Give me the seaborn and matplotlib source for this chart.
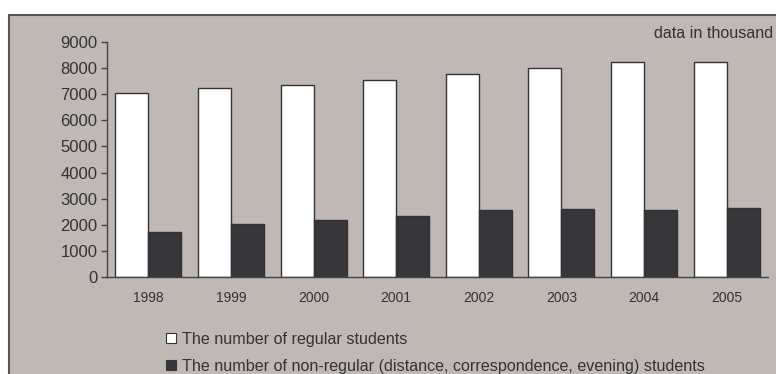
import matplotlib
matplotlib.use("Agg")
import matplotlib.pyplot as plt
import seaborn as sns
import pandas as pd
from matplotlib.patches import Rectangle, Patch

years = ['1998', '1999', '2000', '2001', '2002', '2003', '2004', '2005']
regular = [7030, 7230, 7340, 7530, 7770, 7990, 8250, 8250]
non_regular = [1735, 2030, 2170, 2320, 2550, 2600, 2550, 2640]
labels = ['The number of regular students',
          'The number of non-regular (distance, correspondence, evening) students']
yticks = [0, 1000, 2000, 3000, 4000, 5000, 6000, 7000, 8000, 9000]

BG = '#C0B8B5'
DARK = '#37363B'
EDGE = '#333333'
TXT = '#333333'

df = pd.DataFrame({
    'year': years * 2,
    'value': regular + non_regular,
    'series': [labels[0]] * len(years) + [labels[1]] * len(years),
})

sns.set_style('white')
plt.rcParams['font.family'] = ['Liberation Sans', 'DejaVu Sans']

W, H = 776, 374
fig = plt.figure(figsize=(W / 100, H / 100), dpi=100)
fig.patch.set_facecolor('white')
fig.patches.append(Rectangle((9 / W, -0.02), 1.0, 1 - 15 / H + 0.02,
                             transform=fig.transFigure, facecolor=BG,
                             edgecolor='#555555', linewidth=1.5, zorder=-10))

ax = fig.add_axes([107 / W, 1 - 277 / H, (768 - 107) / W, (277 - 42) / H])
ax.set_zorder(5)
ax.set_facecolor(BG)
sns.barplot(data=df, x='year', y='value', hue='series', order=years,
            hue_order=labels, palette=['white', DARK], width=0.8, gap=0,
            edgecolor=EDGE, linewidth=1, saturation=1, ax=ax, legend=False)

ax.set_xlim(-0.5, len(years) - 0.5)
ax.set_ylim(0, 9000)
ax.set_yticks(yticks)
ax.set_yticklabels([str(v) for v in yticks], fontsize=12, color=TXT)
ax.set_xticks([i - 0.5 for i in range(len(years) + 1)])
ax.set_xticklabels([])
ax.set_xticks(range(len(years)), minor=True)
ax.set_xticklabels(years, minor=True, fontsize=10, color=TXT)
ax.tick_params(axis='x', which='minor', length=0, pad=10)
ax.tick_params(axis='x', which='major', length=4, width=1, color='#444444', direction='out')
ax.tick_params(axis='y', length=4, width=1, color='#444444', direction='out', pad=3, left=True)
ax.set_xlabel('')
ax.set_ylabel('')
for s in ['top', 'right']:
    ax.spines[s].set_visible(False)
for s in ['left', 'bottom']:
    ax.spines[s].set_color('#444444')
    ax.spines[s].set_linewidth(1)

fig.text(654 / W, 1 - 34 / H, 'data in thousand', fontsize=11.6, color=TXT,
         ha='left', va='center')

handles = [Patch(facecolor='white', edgecolor=EDGE, linewidth=0.8),
           Patch(facecolor=DARK, edgecolor=DARK, linewidth=0.8)]
fig.legend(handles, labels, loc='upper left',
           bbox_to_anchor=(166 / W, 1 - 332 / H), bbox_transform=fig.transFigure,
           frameon=False, fontsize=11.6, handlelength=0.6, handleheight=0.6,
           handletextpad=0.4, labelspacing=0.72, borderaxespad=0, borderpad=0,
           labelcolor=TXT)

fig.savefig('out.png', dpi=100, facecolor=fig.get_facecolor())
